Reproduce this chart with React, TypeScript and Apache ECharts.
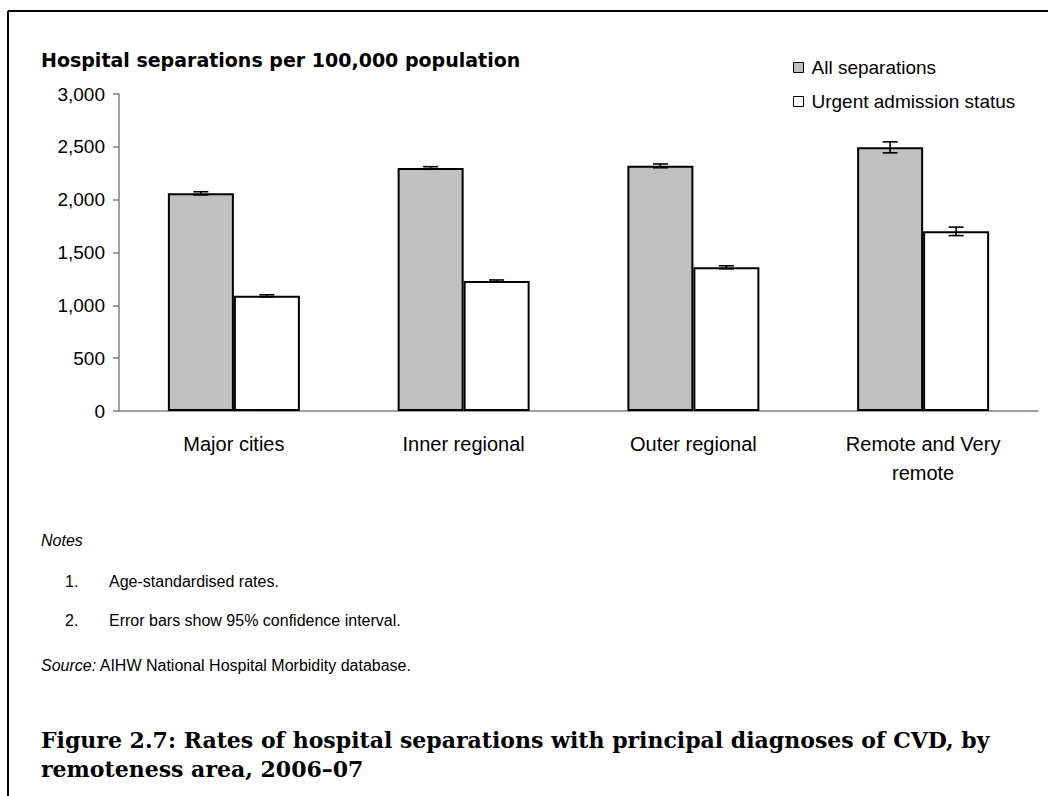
import React, { useEffect, useRef } from "react";
import * as echarts from "echarts";

const categories = ["Major cities", "Inner regional", "Outer regional", "Remote and Very\nremote"];
const seriesNames = ["All separations", "Urgent admission status"];
const allSeparations = [2060, 2300, 2320, 2495];
const urgentAdmission = [1090, 1230, 1360, 1700];
const allCI = [15, 12, 18, 52];
const urgentCI = [10, 10, 14, 40];
const yTicks = { min: 0, max: 3000, interval: 500 };

const titleText = "Hospital separations per 100,000 population";
const note1 = "Age-standardised rates.";
const note2 = "Error bars show 95% confidence interval.";
const sourceText = "AIHW National Hospital Morbidity database.";
const caption1 = "Figure 2.7: Rates of hospital separations with principal diagnoses of CVD, by";
const caption2 = "remoteness area, 2006\u201307";

const SANS = "Arial, 'Liberation Sans', Helvetica, sans-serif";
const WIDE_SANS = "'DejaVu Sans', Arial, sans-serif";
const SERIF = "'Book Antiqua', Palatino, 'DejaVu Serif', serif";
const BAR_W = 66;

function errorSeries(values: number[], ci: number[], offset: number) {
  return {
    type: "custom",
    silent: true,
    z: 10,
    encode: { x: 0, y: [1, 2] },
    data: values.map((v, i) => [i, v - ci[i], v + ci[i]]),
    renderItem: (params: any, api: any) => {
      const idx = api.value(0);
      const lo = api.coord([idx, api.value(1)]);
      const hi = api.coord([idx, api.value(2)]);
      const x = lo[0] + offset;
      const cap = 7.5;
      const st = { stroke: "#000", lineWidth: 1.6 };
      return {
        type: "group",
        children: [
          { type: "line", shape: { x1: x, y1: lo[1], x2: x, y2: hi[1] }, style: st },
          { type: "line", shape: { x1: x - cap, y1: lo[1], x2: x + cap, y2: lo[1] }, style: st },
          { type: "line", shape: { x1: x - cap, y1: hi[1], x2: x + cap, y2: hi[1] }, style: st },
        ],
      };
    },
  };
}

export default function App() {
  const ref = useRef<HTMLDivElement>(null);
  useEffect(() => {
    if (!ref.current) return;
    const chart = echarts.init(ref.current, undefined, { renderer: "svg" });
    const noteFont = `16px ${SANS}`;
    chart.setOption({
      animation: false,
      backgroundColor: "#fff",
      grid: { left: 119, right: 10, top: 94, bottom: 385 },
      legend: {
        data: seriesNames,
        orient: "vertical",
        left: 788,
        top: 53,
        itemWidth: 10,
        itemHeight: 10,
        itemGap: 15,
        icon: "rect",
        itemStyle: { borderColor: "#000", borderWidth: 1 },
        textStyle: { fontFamily: SANS, fontSize: 19, color: "#000", padding: [0, 0, 0, 3] },
      },
      xAxis: {
        type: "category",
        data: categories,
        axisTick: { show: false },
        axisLine: { lineStyle: { color: "#808080", width: 1.5 } },
        axisLabel: {
          fontFamily: SANS,
          fontSize: 20,
          color: "#000",
          margin: 18,
          lineHeight: 29,
          interval: 0,
        },
      },
      yAxis: {
        type: "value",
        min: yTicks.min,
        max: yTicks.max,
        interval: yTicks.interval,
        splitLine: { show: false },
        axisLine: { show: true, lineStyle: { color: "#808080", width: 1.5 } },
        axisTick: { show: true, length: 6, lineStyle: { color: "#808080", width: 1.5 } },
        axisLabel: {
          fontFamily: SANS,
          fontSize: 19,
          color: "#000",
          margin: 14,
          formatter: (v: number) => v.toLocaleString("en-US"),
        },
      },
      series: [
        {
          name: seriesNames[0],
          type: "bar",
          data: allSeparations,
          barWidth: BAR_W,
          barGap: "0%",
          itemStyle: { color: "#C0C0C0", borderColor: "#000", borderWidth: 2 },
        },
        {
          name: seriesNames[1],
          type: "bar",
          data: urgentAdmission,
          barWidth: BAR_W,
          barGap: "0%",
          itemStyle: { color: "#FFFFFF", borderColor: "#000", borderWidth: 2 },
        },
        errorSeries(allSeparations, allCI, -BAR_W / 2),
        errorSeries(urgentAdmission, urgentCI, BAR_W / 2),
      ],
      graphic: [
        { type: "line", shape: { x1: 8, y1: 11, x2: 1048, y2: 11 }, style: { stroke: "#000", lineWidth: 2 } },
        { type: "line", shape: { x1: 8, y1: 11, x2: 8, y2: 796 }, style: { stroke: "#000", lineWidth: 2 } },
        {
          type: "text",
          left: 41,
          top: 50,
          style: { text: titleText, font: `bold 19px ${WIDE_SANS}`, fill: "#000" },
        },
        {
          type: "text",
          left: 41,
          top: 532,
          style: { text: "Notes", font: `italic 16px ${SANS}`, fill: "#000" },
        },
        { type: "text", left: 65, top: 573, style: { text: "1.", font: noteFont, fill: "#000" } },
        { type: "text", left: 109, top: 573, style: { text: note1, font: noteFont, fill: "#000" } },
        { type: "text", left: 65, top: 612, style: { text: "2.", font: noteFont, fill: "#000" } },
        { type: "text", left: 109, top: 612, style: { text: note2, font: noteFont, fill: "#000" } },
        {
          type: "text",
          left: 41,
          top: 657,
          style: {
            text: "{i|Source:} " + sourceText,
            font: noteFont,
            fill: "#000",
            rich: { i: { fontStyle: "italic", fontFamily: SANS, fontSize: 16, fill: "#000" } },
          },
        },
        {
          type: "text",
          left: 41,
          top: 729,
          style: { text: caption1, font: `bold 22px ${SERIF}`, fill: "#000" },
        },
        {
          type: "text",
          left: 41,
          top: 758,
          style: { text: caption2, font: `bold 22px ${SERIF}`, fill: "#000" },
        },
      ],
    });
    return () => chart.dispose();
  }, []);
  return (
    <div
      ref={ref}
      style={{ position: "fixed", left: 0, top: 0, width: 1048, height: 796, background: "#fff" }}
    />
  );
}
